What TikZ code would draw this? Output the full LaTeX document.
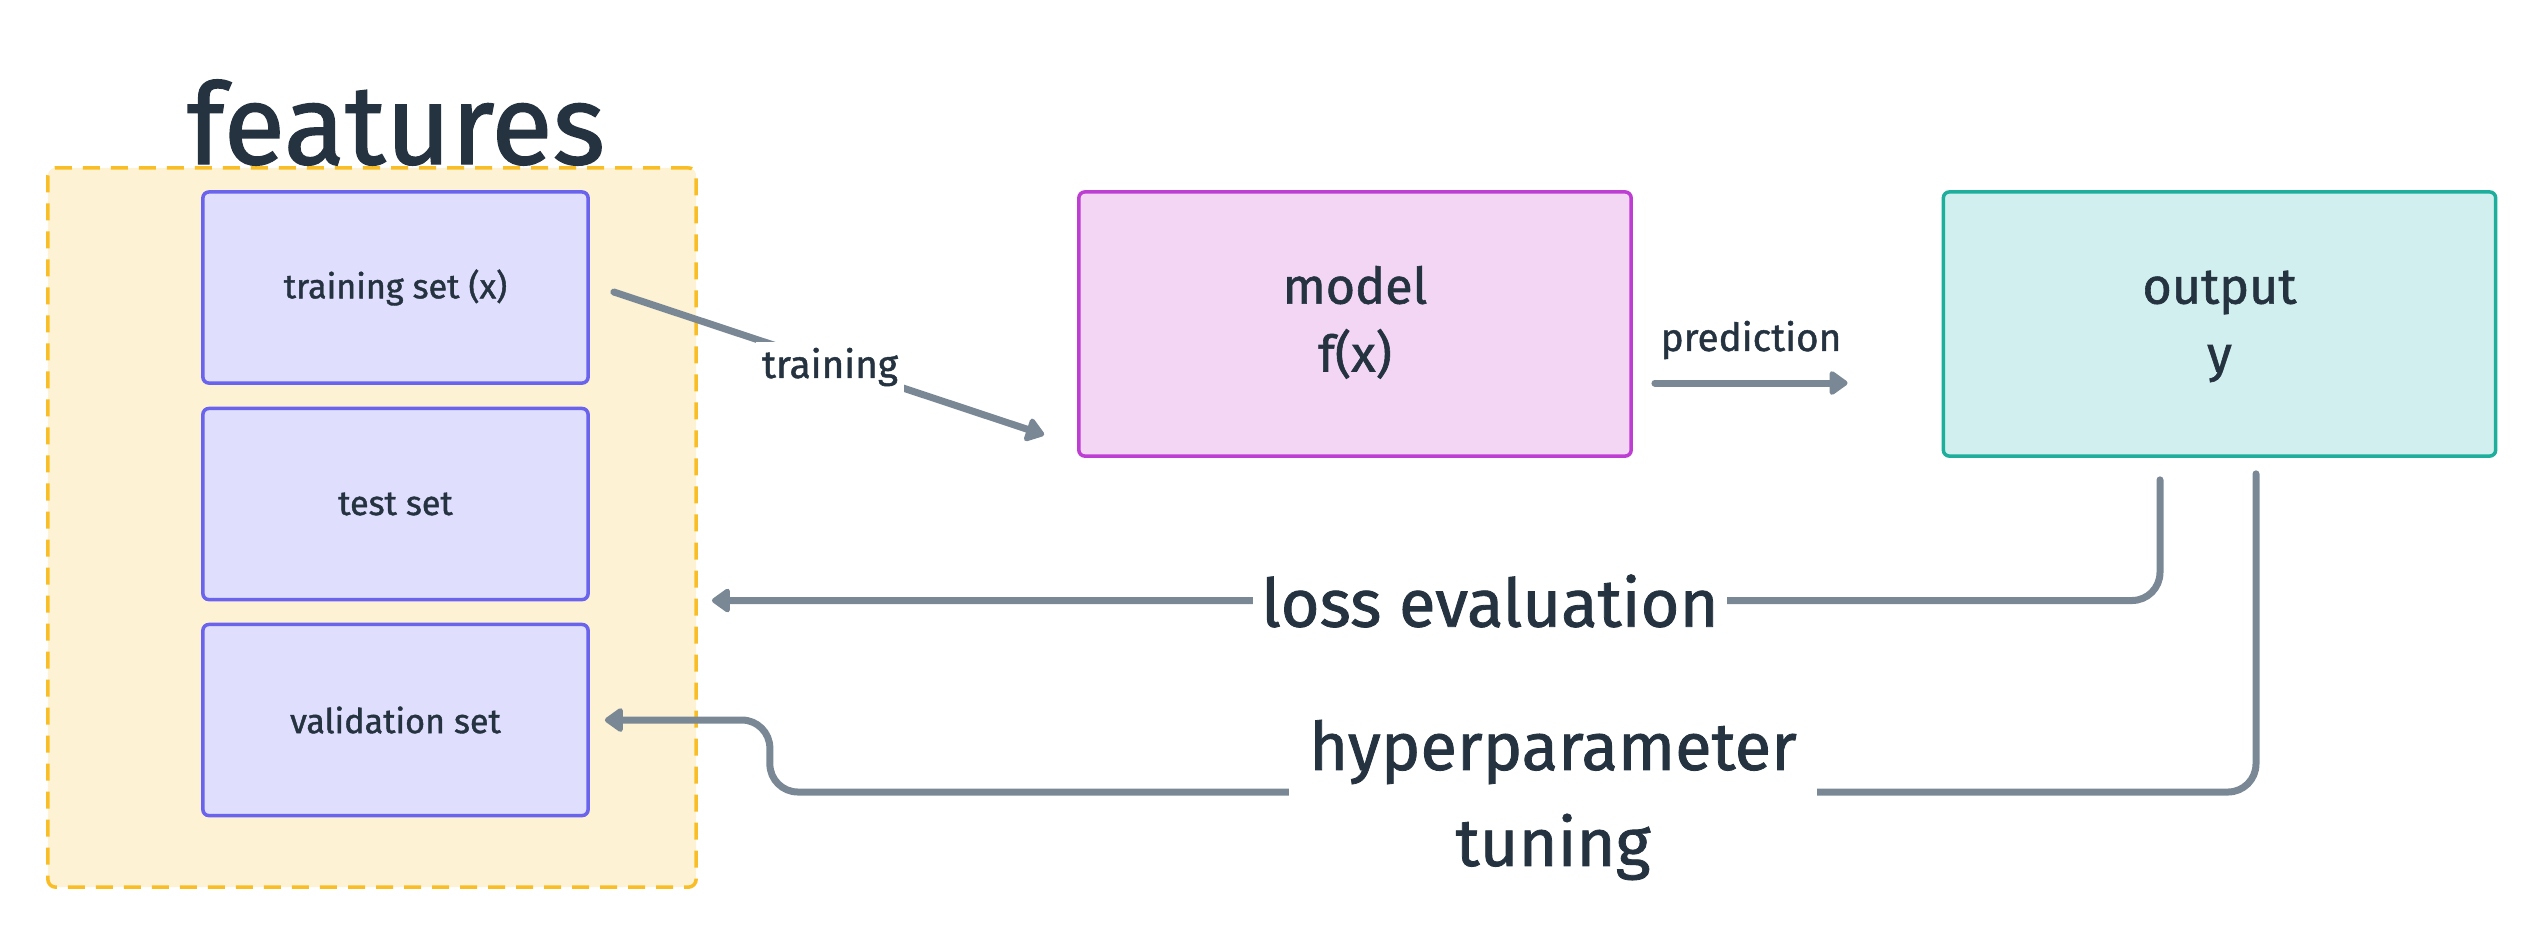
\documentclass[tikz,border=0pt]{standalone}
\usepackage{fontspec}
\setmainfont{Fira Sans}[FakeBold=1.2]
\usetikzlibrary{arrows.meta,calc}

\definecolor{featfill}{HTML}{FDF2D3}
\definecolor{featline}{HTML}{F9BE26}
\definecolor{setfill}{HTML}{DFDEFC}
\definecolor{setline}{HTML}{6A63EE}
\definecolor{modelfill}{HTML}{F2D6F4}
\definecolor{modelline}{HTML}{BE3DD2}
\definecolor{outfill}{HTML}{D1EFEE}
\definecolor{outstroke}{HTML}{1DAE9C}
\definecolor{connline}{HTML}{7A8896}
\definecolor{ink}{HTML}{253341}

\tikzset{
  setbox/.style={draw=setline, fill=setfill, line width=0.035cm, rounded corners=0.06cm,
    minimum width=3.85cm, minimum height=1.91cm, text=ink, font=\fontsize{9.7}{12}\selectfont},
  bigbox/.style={line width=0.035cm, rounded corners=0.06cm, minimum width=5.52cm,
    minimum height=2.64cm, text=ink, align=center, font=\fontsize{14.3}{19.3}\selectfont},
  conn/.style={draw=connline, line width=0.07cm, line cap=round, rounded corners=0.28cm,
    -{Triangle[length=0.2cm,width=0.27cm,round]}},
  smalllbl/.style={text=ink, inner sep=0.06cm, font=\fontsize{11}{13}\selectfont},
  biglbl/.style={fill=white, text=ink, inner xsep=0.08cm, inner ysep=0.02cm,
    align=center, font=\fontsize{19}{27.3}\selectfont}
}

\begin{document}
\begin{tikzpicture}[x=0.01cm, y=-0.01cm]
\useasboundingbox (0,0) rectangle (2544,944);

% features group
\node[draw=featline, fill=featfill, line width=0.035cm, dash pattern=on 0.17cm off 0.11cm,
  rounded corners=0.08cm, minimum width=6.48cm, minimum height=7.19cm] (feat) at (372,527.5) {};
\node[anchor=base, text=ink, font=\fontsize{32}{36}\selectfont] (feattitle) at (396,164) {features};

\node[setbox] (train) at (395.5,287.5) {training set (x)};
\node[setbox] (test) at (395.5,504) {test set};
\node[setbox] (val) at (395.5,720) {validation set};

\node[bigbox, draw=modelline, fill=modelfill] (model) at (1355,324) {\strut model\\\strut f(x)};
\node[bigbox, draw=outstroke, fill=outfill] (output) at (2219.5,324) {\strut output\\\strut y};

% free ends
\coordinate (trainstart) at ($(train.east)+(24,4.5)$);
\coordinate (trainend) at ($(model.south west)+(-33,-23)$);
\coordinate (predstart) at ($(model.east)+(22,59)$);
\coordinate (predend) at ($(output.west)+(-94,59)$);
\coordinate (lossstart) at ($(output.south)+(-59.5,22)$);
\coordinate (lossend) at ($(feat.east)+(14,73)$);
\coordinate (hypstart) at ($(output.south)+(36.5,16)$);
\coordinate (hypstep) at ($(val.east)+(180,72)$);
\coordinate (hypend) at ($(val.east)+(15,0)$);

\draw[conn] (trainstart) -- (trainend);
\node[smalllbl, fill=white] (trainlbl) at (830,367) {training};

\draw[conn] (predstart) -- (predend);
\node[smalllbl] (predlbl) at (1751,340) {prediction};

\draw[conn] (lossstart) |- (lossend);
\node[biglbl] (losslbl) at (1490,601) {loss evaluation};

\draw[conn] (hypstart) |- (hypstep) |- (hypend);
\node[biglbl, inner xsep=0.2cm] (hyplbl) at (1553,800) {hyperparameter\\tuning};

\end{tikzpicture}
\end{document}
